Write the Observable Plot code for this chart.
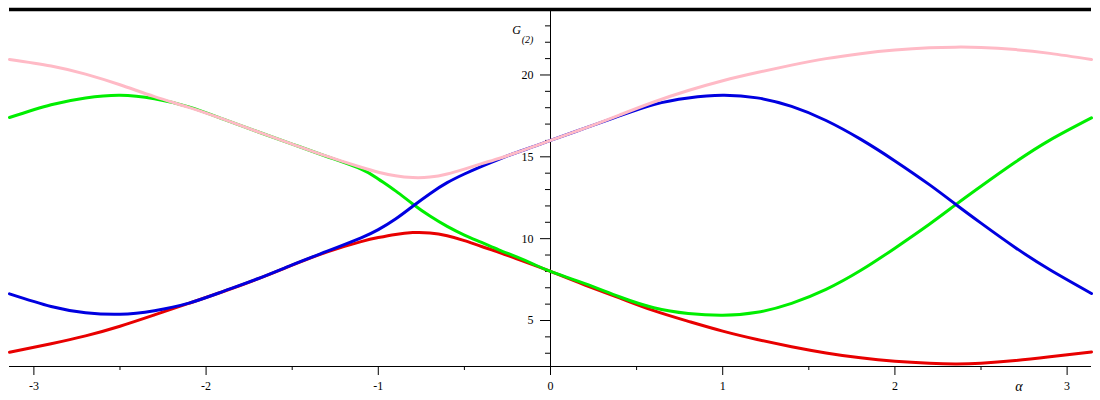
<!DOCTYPE html>
<html><head><meta charset="utf-8">
<script src="https://cdn.jsdelivr.net/npm/d3@7"></script>
<script src="https://cdn.jsdelivr.net/npm/@observablehq/plot@0.6"></script>
<style>body{margin:0;background:#fff}</style>
</head><body><div id="chart"></div>
<script>
const alpha = [-3.1416, -2.9, -2.7, -2.5, -2.3, -2.1, -1.9, -1.7, -1.5, -1.3, -1.1, -1.0, -0.9, -0.8, -0.7, -0.6, -0.5, -0.4, -0.3, -0.2, -0.1, 0, 0.2, 0.4, 0.6, 0.8, 1.0, 1.2, 1.4, 1.6, 1.8, 2.0, 2.2, 2.35, 2.5, 2.7, 2.9, 3.1416];
const redG   = [3.06, 3.58, 4.06, 4.65, 5.34, 6.05, 6.77, 7.54, 8.38, 9.18, 9.82, 10.07, 10.26, 10.37, 10.35, 10.18, 9.88, 9.52, 9.17, 8.78, 8.4, 8.0, 7.17, 6.38, 5.6, 4.95, 4.35, 3.84, 3.4, 3.02, 2.72, 2.51, 2.39, 2.35, 2.39, 2.55, 2.78, 3.08];
const greenG = [17.4, 18.18, 18.6, 18.76, 18.55, 18.05, 17.3, 16.53, 15.78, 15.02, 14.25, 13.65, 12.92, 12.12, 11.38, 10.75, 10.22, 9.77, 9.32, 8.9, 8.45, 8.0, 7.25, 6.45, 5.78, 5.43, 5.32, 5.5, 6.05, 6.9, 8.05, 9.42, 10.88, 12.05, 13.2, 14.68, 16.02, 17.38];
const blueG  = [6.63, 5.86, 5.48, 5.38, 5.6, 6.06, 6.78, 7.55, 8.4, 9.22, 10.05, 10.55, 11.2, 11.98, 12.75, 13.42, 13.95, 14.42, 14.85, 15.25, 15.62, 16.0, 16.75, 17.5, 18.2, 18.6, 18.76, 18.6, 18.08, 17.22, 16.08, 14.75, 13.3, 12.12, 10.95, 9.45, 8.1, 6.65];
const pinkG  = [20.95, 20.55, 20.05, 19.4, 18.68, 18.02, 17.3, 16.53, 15.78, 15.04, 14.36, 14.06, 13.84, 13.73, 13.76, 13.95, 14.25, 14.58, 14.9, 15.25, 15.62, 16.0, 16.75, 17.55, 18.35, 19.05, 19.65, 20.15, 20.6, 21.0, 21.3, 21.52, 21.66, 21.7, 21.68, 21.55, 21.32, 20.95];

const xDomain = [-Math.PI, Math.PI];
const yDomain = [2.19, 24];
const xMajorTicks = [-3, -2, -1, 0, 1, 2, 3];
const xTickLabels = ["-3", "-2", "-1", "0", "1", "2", "3"];
const xMinorTicks = [-2.5, -1.5, -0.5, 0.5, 1.5, 2.5];
const yMajorTicks = [5, 10, 15, 20];
const yTickLabels = ["5", "10", "15", "20"];
const yMinorTicks = [3, 4, 6, 7, 8, 9, 11, 12, 13, 14, 16, 17, 18, 19, 21, 22, 23];
const xLabel = "α";
const xLabelAt = 2.72;
const yLabel = "G";
const yLabelSub = "(2)";

const series = [
  {values: redG,   color: "#e80000"},
  {values: greenG, color: "#00ee00"},
  {values: blueG,  color: "#0000e0"},
  {values: pinkG,  color: "#ffbac6"}
];

const lineMarks = series.map(s =>
  Plot.line(alpha.map((a, i) => ({alpha: a, G: s.values[i]})),
    {x: "alpha", y: "G", stroke: s.color, strokeWidth: 3, curve: "natural"})
);

const chart = Plot.plot({
  width: 1100, height: 400,
  marginLeft: 9, marginRight: 9, marginTop: 9, marginBottom: 34,
  x: {domain: xDomain, axis: null},
  y: {domain: yDomain, axis: null},
  style: {fontFamily: "'Liberation Serif', 'DejaVu Serif', serif", fontSize: "12px", background: "#fff", color: "#000"},
  marks: [
    Plot.ruleY([yDomain[0]], {stroke: "#000", strokeWidth: 1}),
    Plot.ruleX([0], {stroke: "#000", strokeWidth: 1}),
    Plot.ruleX(xMajorTicks, {x: d => d, y1: yDomain[0], y2: yDomain[0], insetTop: 9, stroke: "#000"}),
    Plot.ruleX(xMinorTicks, {x: d => d, y1: yDomain[0], y2: yDomain[0], insetTop: 4, stroke: "#000"}),
    Plot.ruleY(yMajorTicks, {y: d => d, x1: 0, x2: 0, insetLeft: -10, stroke: "#000"}),
    Plot.ruleY(yMinorTicks, {y: d => d, x1: 0, x2: 0, insetLeft: -5, stroke: "#000"}),
    ...lineMarks,
    Plot.ruleY([yDomain[1]], {stroke: "#000", strokeWidth: 3.5}),
    Plot.text(xTickLabels, {x: (d, i) => xMajorTicks[i], y: yDomain[0], text: d => d, dy: 20, fill: "#000"}),
    Plot.text(yTickLabels, {x: 0, y: (d, i) => yMajorTicks[i], text: d => d, dx: -17, textAnchor: "end", fill: "#000"}),
    Plot.text([xLabel], {x: xLabelAt, y: yDomain[0], text: d => d, dy: 20, fontStyle: "italic", fontSize: 14, fill: "#000"}),
    Plot.text([yLabel], {x: 0, y: yDomain[1], text: d => d, dx: -34, dy: 21, fontStyle: "italic", fontSize: 12, fill: "#000"}),
    Plot.text([yLabelSub], {x: 0, y: yDomain[1], text: d => d, dx: -23, dy: 30, fontStyle: "italic", fontSize: 10, fill: "#000"})
  ]
});
document.getElementById("chart").appendChild(chart);
</script>
</body></html>
